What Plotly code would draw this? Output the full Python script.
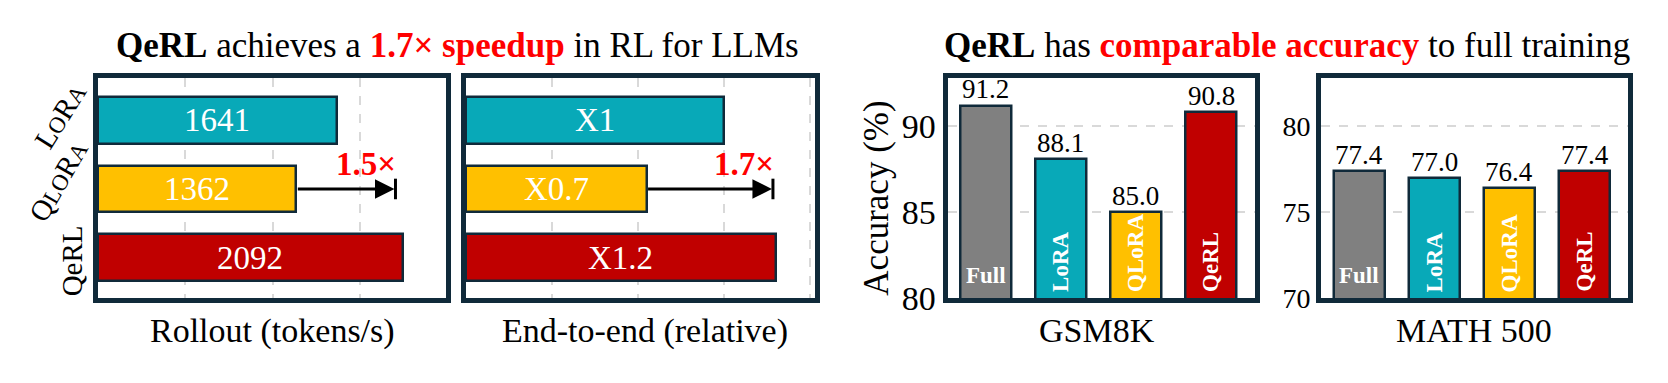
import plotly.graph_objects as go

# ---------------- data ----------------
methods = ["LoRA", "QLoRA", "QeRL"]
rollout = [1641, 1362, 2092]
rollout_text = ["1641", "1362", "2092"]
e2e = [1.0, 0.7, 1.2]
e2e_text = ["X1", "X0.7", "X1.2"]
speedup_rollout = 1.5
speedup_e2e = 1.7

acc_methods = ["Full", "LoRA", "QLoRA", "QeRL"]
gsm8k = [91.2, 88.1, 85.0, 90.8]
math500 = [77.4, 77.0, 76.4, 77.4]

# ---------------- style ----------------
W, H = 1668, 383
FONT = "Liberation Serif"
OUT = "#102A3A"
GRID = "#D9D9D9"
RED = "#FF0000"
h_colors = ["#08A9B8", "#FFC000", "#C00000"]
v_colors = ["#808080", "#08A9B8", "#FFC000", "#C00000"]


def fx(px):
    return px / W


def fy(py):
    return 1 - py / H


fig = go.Figure()

ypos = list(range(len(methods)))
xpos = list(range(len(acc_methods)))

# horizontal bar panels
fig.add_trace(go.Bar(x=rollout, y=ypos, orientation="h", width=0.68,
                     marker=dict(color=h_colors, line=dict(color=OUT, width=2.5)),
                     xaxis="x", yaxis="y", hoverinfo="skip"))
fig.add_trace(go.Bar(x=e2e, y=ypos, orientation="h", width=0.68,
                     marker=dict(color=h_colors, line=dict(color=OUT, width=2.5)),
                     xaxis="x2", yaxis="y2", hoverinfo="skip"))
# vertical bar panels
fig.add_trace(go.Bar(x=xpos, y=gsm8k, width=0.69,
                     marker=dict(color=v_colors, line=dict(color=OUT, width=2.5)),
                     xaxis="x3", yaxis="y3", hoverinfo="skip"))
fig.add_trace(go.Bar(x=xpos, y=math500, width=0.69,
                     marker=dict(color=v_colors, line=dict(color=OUT, width=2.5)),
                     xaxis="x4", yaxis="y4", hoverinfo="skip"))

frame = dict(showline=True, mirror=True, linecolor=OUT, linewidth=5,
             zeroline=False, ticks="")

# panel domains (inner plot areas, pixels)
p1 = (98, 446)
p2 = (466, 815)
p3 = (947.5, 1254.5)
p4 = (1321, 1628)
ytop, ybot = 82, 313.5

yrange_h = [2.59, -0.62]
xrange_v = [-0.513, 3.58]

fig.update_layout(
    width=W, height=H, margin=dict(l=0, r=0, t=0, b=0),
    paper_bgcolor="white", plot_bgcolor="white", showlegend=False,
    bargap=0,
    font=dict(family=FONT, color="black"),
    xaxis=dict(domain=[fx(p1[0]), fx(p1[1])], range=[0, 2390], dtick=600, tick0=0,
               showgrid=True, gridcolor=GRID, griddash="dash", gridwidth=1.5,
               showticklabels=False, anchor="y", **frame),
    yaxis=dict(domain=[fy(ybot), fy(ytop)], range=yrange_h, showgrid=False,
               showticklabels=False, anchor="x", **frame),
    xaxis2=dict(domain=[fx(p2[0]), fx(p2[1])], range=[0, 1.353], dtick=1 / 3, tick0=0,
                showgrid=True, gridcolor=GRID, griddash="dash", gridwidth=1.5,
                showticklabels=False, anchor="y2", **frame),
    yaxis2=dict(domain=[fy(ybot), fy(ytop)], range=yrange_h, showgrid=False,
                showticklabels=False, anchor="x2", **frame),
    xaxis3=dict(domain=[fx(p3[0]), fx(p3[1])], range=xrange_v, showgrid=False,
                showticklabels=False, anchor="y3", **frame),
    yaxis3=dict(domain=[fy(ybot), fy(ytop)], range=[80, 92.8], dtick=5, tick0=80,
                showgrid=True, gridcolor=GRID, griddash="dash", gridwidth=1.5,
                tickfont=dict(size=34, family=FONT, color="black"), anchor="x3", **frame),
    xaxis4=dict(domain=[fx(p4[0]), fx(p4[1])], range=xrange_v, showgrid=False,
                showticklabels=False, anchor="y4", **frame),
    yaxis4=dict(domain=[fy(ybot), fy(ytop)], range=[70, 82.8], dtick=5, tick0=70,
                showgrid=True, gridcolor=GRID, griddash="dash", gridwidth=1.5,
                tickfont=dict(size=28, family=FONT, color="black"), anchor="x4", **frame),
)

ann = []
shapes = []


def paper_text(txt, cx, cy, size, angle=0, color="black"):
    return dict(x=fx(cx), y=fy(cy), xref="paper", yref="paper", showarrow=False,
                xanchor="center", yanchor="middle", text=txt, textangle=angle,
                font=dict(size=size, family=FONT, color=color))


# titles
ann.append(paper_text("<b>QeRL</b> achieves a <b><span style='color:#FF0000'>1.7\u00d7 speedup</span></b> in RL for LLMs",
                      457, 48, 35))
ann.append(paper_text("<b>QeRL</b> has <b><span style='color:#FF0000'>comparable accuracy</span></b> to full training",
                      1287, 48, 35))

# x-axis titles
for txt, cx in [("Rollout (tokens/s)", 272), ("End-to-end (relative)", 645),
                ("GSM8K", 1097), ("MATH 500", 1474)]:
    ann.append(paper_text(txt, cx, 348, 34))

# y-axis title for accuracy
ann.append(paper_text("Accuracy (%)", 877, 208, 35, angle=-90))

# left method labels (rotated)
sc = "<span style='font-size:23px'>{}</span>"
left_labels = ["L" + sc.format("O") + "R" + sc.format("A"),
               "Q" + sc.format("L") + sc.format("O") + "R" + sc.format("A"),
               "QeRL"]
left_pos = [(60, 122, -58), (58, 190, -60), (72, 275, -90)]
for lab, (cx, cy, ang) in zip(left_labels, left_pos):
    ann.append(paper_text(lab, cx, cy, 29, angle=ang))

# bar value text in horizontal bars
for xa, ya, vals, texts in [("x", "y", rollout, rollout_text), ("x2", "y2", e2e, e2e_text)]:
    for i, (v, t) in enumerate(zip(vals, texts)):
        ann.append(dict(x=v / 2, y=ypos[i], xref=xa, yref=ya, showarrow=False, text=t,
                        xanchor="center", yanchor="middle",
                        font=dict(size=33, family=FONT, color="white")))

# speedup arrows
for xa, ya, base, sp in [("x", "y", rollout[1], speedup_rollout), ("x2", "y2", e2e[1], speedup_e2e)]:
    target = base * sp
    ann.append(dict(x=target, y=ypos[1], ax=base, ay=ypos[1], xref=xa, yref=ya,
                    axref=xa, ayref=ya, showarrow=True, text="", arrowhead=2,
                    arrowsize=1.3, arrowwidth=3, arrowcolor="black", standoff=1))
    shapes.append(dict(type="line", xref=xa, yref=ya, x0=target, x1=target,
                       y0=ypos[1] - 0.15, y1=ypos[1] + 0.15,
                       line=dict(color="black", width=3)))
    ann.append(dict(x=target, y=ypos[1] - 0.36, xref=xa, yref=ya, showarrow=False,
                    xanchor="right", yanchor="middle", xshift=3,
                    text="<b>%.1f\u00d7</b>" % sp, font=dict(size=33, family=FONT, color=RED)))

# vertical bars: value labels and inside method labels
for xa, ya, vals, y0 in [("x3", "y3", gsm8k, 80), ("x4", "y4", math500, 70)]:
    for i, v in enumerate(vals):
        ann.append(dict(x=xpos[i], y=v, xref=xa, yref=ya, showarrow=False,
                        xanchor="center", yanchor="bottom", yshift=-1, text="%.1f" % v,
                        font=dict(size=27, family=FONT, color="black")))
        name = acc_methods[i]
        ang = 0 if name == "Full" else -90
        ann.append(dict(x=xpos[i], y=y0, xref=xa, yref=ya, showarrow=False,
                        xanchor="center", yanchor="bottom",
                        yshift=(8 if ang == 0 else 4), textangle=ang,
                        text="<b>%s</b>" % name,
                        font=dict(size=23, family=FONT, color="white")))

fig.update_layout(annotations=ann, shapes=shapes)

fig.write_html("out.html", config={"displayModeBar": False},
               post_script="document.body.style.margin='0';document.body.style.overflow='hidden';")
